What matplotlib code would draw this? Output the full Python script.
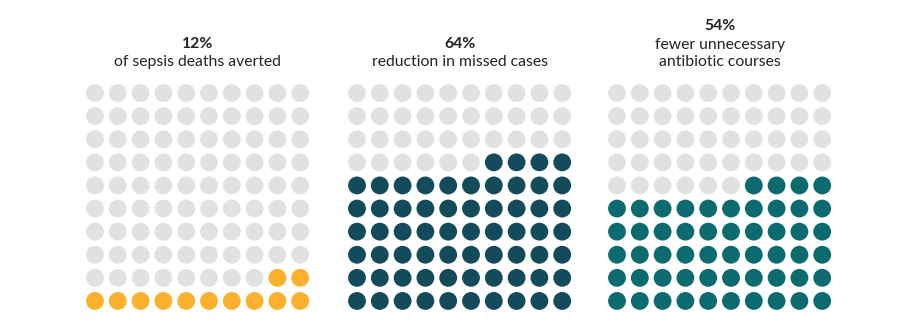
import matplotlib
matplotlib.use("Agg")
import matplotlib.pyplot as plt

# Data
percent_values = [12, 64, 54]
headline_labels = ["12%", "64%", "54%"]
caption_labels = ["of sepsis deaths averted", "reduction in missed cases",
                  "fewer unnecessary\nantibiotic courses"]
fill_colors = ["#FBB12E", "#134B5A", "#0B6B6E"]
empty_color = "#E0E1E3"
n_rows, n_cols = 10, 10

plt.rcParams['font.family'] = ['Lato', 'DejaVu Sans']

W, H = 900, 325
fig = plt.figure(figsize=(W / 100, H / 100), dpi=100)

grid_lefts_px = [83.6, 345.6, 605.6]
cell_w, cell_h = 22.8, 23.1
grid_top_px = 81.5
line_step = 17.5

for i, (val, head, cap, col) in enumerate(zip(percent_values, headline_labels,
                                              caption_labels, fill_colors)):
    left = grid_lefts_px[i] / W
    width = cell_w * n_cols / W
    height = cell_h * n_rows / H
    bottom = 1 - (grid_top_px + cell_h * n_rows) / H
    ax = fig.add_axes([left, bottom, width, height])
    xs, ys, cs = [], [], []
    for k in range(n_rows * n_cols):
        r = k // n_cols
        c = n_cols - 1 - (k % n_cols)
        xs.append(c)
        ys.append(r)
        cs.append(col if k < val else empty_color)
    ax.scatter(xs, ys, s=165, c=cs, linewidths=0)
    ax.set_xlim(-0.5, n_cols - 0.5)
    ax.set_ylim(-0.5, n_rows - 0.5)
    ax.axis("off")

    cx = (grid_lefts_px[i] + cell_w * n_cols / 2) / W
    lines = cap.split("\n")
    for j, ln in enumerate(reversed(lines)):
        y = 1 - (62 - line_step * j) / H
        fig.text(cx, y, ln, ha="center", va="center", fontsize=11.3,
                 color="#222222")
    head_y = 1 - (62 - line_step * len(lines) - 0.5) / H
    fig.text(cx, head_y, head, ha="center", va="center", fontsize=11.3,
             fontweight="bold", color="#222222")

fig.savefig("out.png", dpi=100, facecolor="white")
